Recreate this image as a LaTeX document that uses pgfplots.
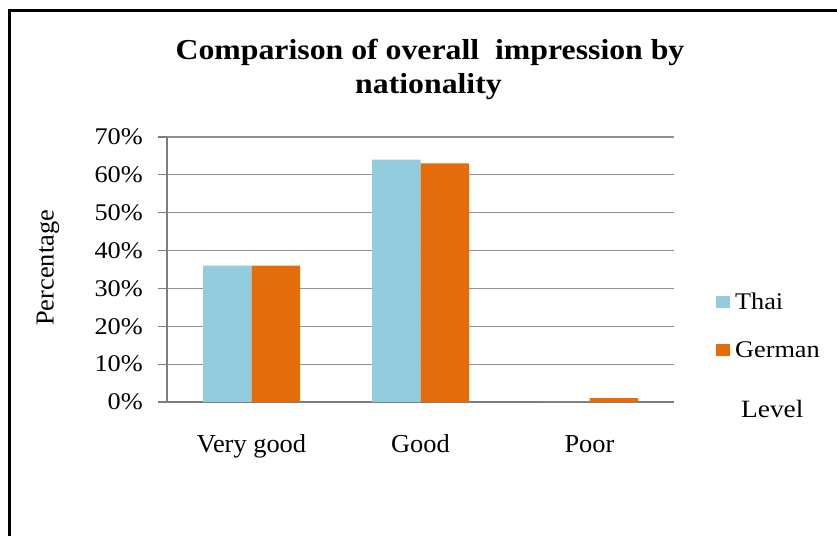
\documentclass[border=0pt]{standalone}
\usepackage{pgfplots}
\pgfplotsset{compat=1.18}
\usepackage{fontspec}
\setmainfont[FakeStretch=1.1]{Liberation Serif}
\newfontfamily\titlefont[FakeStretch=1.1]{Liberation Serif}
\newfontfamily\lblfont[FakeStretch=1.02]{Liberation Serif}
\definecolor{thai}{RGB}{147,205,221}
\definecolor{german}{RGB}{228,108,10}
\definecolor{gridc}{RGB}{145,145,145}
\definecolor{axisc}{RGB}{125,125,125}
\pgfplotsset{sqlegend/.style={legend image code/.code={\fill[##1] (0bp,-6bp) rectangle (14bp,6bp);}}}
\begin{document}
\begin{tikzpicture}[x=1bp,y=1bp]
\useasboundingbox (0bp,0bp) rectangle (837bp,536bp);
\fill[white] (0bp,0bp) rectangle (837bp,536bp);
\draw[line width=2.6bp] (9.7bp,-2bp) -- (9.7bp,525.5bp) -- (840bp,525.5bp);
\node[font=\titlefont\bfseries\fontsize{29}{33}\selectfont, anchor=base, inner sep=0pt] at (430bp,476.7bp) {Comparison of overall\ \ impression by};
\node[font=\titlefont\bfseries\fontsize{29}{33}\selectfont, anchor=base, inner sep=0pt] at (428.5bp,442.7bp) {nationality};
\begin{axis}[
  at={(167bp,134bp)}, anchor=south west, scale only axis,
  width=507bp, height=265bp,
  xmin=-0.5, xmax=2.5, ymin=0, ymax=70,
  ybar=0pt, bar width=48.5bp,
  axis lines=left,
  axis line style={-, draw=axisc, line width=1.2bp},
  ytick={0,10,20,30,40,50,60,70},
  yticklabels={0\%,10\%,20\%,30\%,40\%,50\%,60\%,70\%},
  xtick={0,1,2},
  xticklabels={Very good,Good,Poor},
  x tick style={draw=none},
  y tick style={draw=axisc, line width=1.2bp},
  tick align=outside, major tick length=9bp,
  ymajorgrids, grid style={draw=gridc, line width=1.2bp},
  yticklabel style={font=\fontsize{24}{28}\selectfont, anchor=east, inner sep=0pt, xshift=-15bp},
  xticklabel style={font=\lblfont\fontsize{26}{30}\selectfont, anchor=base, inner sep=0pt, yshift=-42bp},
  ylabel={Percentage},
  ylabel style={font=\lblfont\fontsize{26}{30}\selectfont, at={(axis description cs:-0.235,0.506)}, anchor=center, inner sep=0pt},
  xlabel={Level},
  xlabel style={font=\fontsize{25}{28}\selectfont, at={(axis description cs:1.132,-0.06)}, anchor=base west, inner sep=0pt},
  legend cell align=left,
  legend style={draw=none, fill=none, inner sep=0pt, outer sep=0pt,
    at={(axis description cs:1.083,0.407)}, anchor=north west,
    font=\fontsize{24}{28}\selectfont, row sep=33bp, column sep=0pt,
    nodes={inner sep=0pt, text height=15bp, text depth=0bp}},
]
\addplot[fill=thai, draw=none, sqlegend] coordinates {(0,36) (1,64) (2,0)};
\addplot[fill=german, draw=none, sqlegend] coordinates {(0,36) (1,63) (2,1)};
\legend{\hspace{5bp}Thai,\hspace{5bp}German}
\end{axis}
\end{tikzpicture}
\end{document}
